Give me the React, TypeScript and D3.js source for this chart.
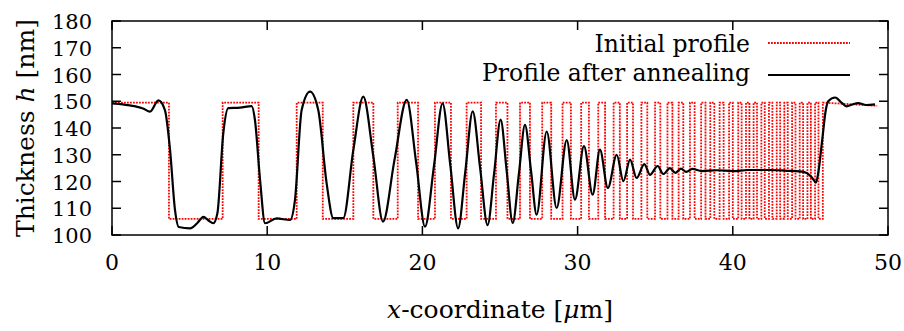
import React from "react";
import * as d3 from "d3";

// axis ticks
const xTicks = [0, 10, 20, 30, 40, 50];
const yTicks = [100, 110, 120, 130, 140, 150, 160, 170, 180];

// initial profile: square wave, edges alternate fall / rise (um)
const initialStart = 0;
const initialEnd = 49.3;
const initialHigh = 149.5;
const initialLow = 106;
const initialEndLevel = 148.3;
const initialEdges = [
  3.67, 7.13, 9.45, 11.9, 13.58, 15.55, 16.84, 18.41, 19.72, 20.81, 21.84,
  22.85, 23.78, 24.74, 25.48, 26.29, 26.93, 27.72, 28.3, 29.03, 29.57, 30.23,
  30.73, 31.33, 31.77, 32.32, 32.72, 33.19, 33.57, 34.11, 34.49, 34.99, 35.33,
  35.79, 36.11, 36.51, 36.81, 37.24, 37.54, 37.96, 38.24, 38.55, 38.81, 39.15,
  39.41, 39.76, 40.0, 40.35, 40.57, 40.85, 41.07, 41.34, 41.56, 41.84, 42.06,
  42.33, 42.55, 42.83, 43.05, 43.32, 43.54, 43.82, 44.04, 44.31, 44.53, 44.81,
  45.03, 45.3, 45.52, 45.8,
];

// profile after annealing
const annealedX = [
  0, 0.7, 1.4, 2.0, 2.45, 2.99, 3.41, 3.74, 4.06, 4.3, 5.03, 5.5, 5.89, 6.2,
  6.53, 6.79, 7.17, 7.49, 8.25, 9.0, 9.21, 9.54, 9.86, 10.61, 11.47, 11.79,
  12.22, 12.76, 13.29, 13.83, 14.26, 14.9, 15.55, 16.19, 16.84, 17.46, 18.2,
  18.99, 19.6, 20.17, 20.75, 21.3, 21.8, 22.3, 22.77, 23.24, 23.72, 24.2, 24.62,
  25.04, 25.43, 25.82, 26.22, 26.61, 27.0, 27.36, 28.01, 28.65, 29.3, 29.83,
  30.41, 30.97, 31.44, 31.95, 32.52, 32.95, 33.38, 33.8, 34.3, 34.66, 35.16,
  35.52, 35.95, 36.3, 36.66, 37.0, 37.4, 38.0, 39.0, 40.0, 41.0, 42.4, 43.5,
  44.3, 44.76, 45.1, 45.36, 45.5, 45.75, 46.0, 46.15, 46.6, 47.0, 47.33, 47.7,
  48.07, 48.6, 49.16,
];
const annealedH = [
  149.2, 148.8, 148.2, 147.3, 146.1, 150.3, 146.7, 131.8, 109.3, 103.0, 102.5,
  104.5, 106.8, 105.5, 104.4, 108.1, 138, 147.4, 147.6, 148.2, 143, 120.6,
  104.4, 106.2, 105.6, 113.1, 146.7, 153.6, 146.7, 119.3, 106.3, 106.3, 131.8,
  151.7, 129.3, 105, 128, 150.5, 127, 103.1, 126, 149.2, 126, 102.5, 124,
  146.2, 125, 103.7, 123, 143.1, 124, 104.5, 123, 141.2, 124, 107.6, 138.7,
  110.1, 135.5, 113.2, 133.2, 115.1, 131.9, 117.6, 130.0, 120.1, 128.2, 121.3,
  126.5, 122.5, 125.8, 122.8, 125.0, 123.2, 124.8, 123.6, 124.7, 123.9, 124.2,
  123.9, 124.3, 124.3, 124.0, 123.8, 123.2, 121.5, 119.6, 123, 135, 147, 150,
  151.4, 149.5, 148.1, 148.8, 149.3, 148.6, 148.8,
];

const W = 904;
const H = 331;
const margin = { left: 112, right: 16, top: 21, bottom: 96 };

const App: React.FC = () => {
  const x = d3
    .scaleLinear()
    .domain([0, 50])
    .range([margin.left, W - margin.right]);
  const y = d3
    .scaleLinear()
    .domain([100, 180])
    .range([H - margin.bottom, margin.top]);

  // build square wave points
  const initPts: [number, number][] = [[initialStart, initialHigh]];
  initialEdges.forEach((e, i) => {
    if (i % 2 === 0) {
      initPts.push([e, initialHigh], [e, initialLow]);
    } else {
      initPts.push([e, initialLow], [e, initialHigh]);
    }
  });
  initPts.push([initialEnd, initialEndLevel]);

  const straight = d3
    .line<[number, number]>()
    .x((d) => x(d[0]))
    .y((d) => y(d[1]));

  const smooth = d3
    .line<number>()
    .x((d) => x(d))
    .y((_, i) => y(annealedH[i]))
    .curve(d3.curveMonotoneX);

  const font = "DejaVu Serif";
  const x0 = x(0);
  const x1 = x(50);
  const yTop = y(180);
  const yBot = y(100);
  const tick = 9;

  return (
    <svg width={W} height={H} style={{ position: "absolute", left: 0, top: 0 }}>
      <rect width={W} height={H} fill="white" />
      <g fill="black">
        {/* data */}
        <path
          d={straight(initPts) || ""}
          fill="none"
          stroke="#ff0000"
          strokeWidth={1.8}
          strokeDasharray="1.8,1.2"
        />
        <path
          d={smooth(annealedX) || ""}
          fill="none"
          stroke="black"
          strokeWidth={2.2}
          strokeLinejoin="round"
        />

        {/* frame */}
        <rect
          x={x0}
          y={yTop}
          width={x1 - x0}
          height={yBot - yTop}
          fill="none"
          stroke="black"
          strokeWidth={1.5}
        />
        {xTicks.map((t) => (
          <g key={"x" + t}>
            <line x1={x(t)} x2={x(t)} y1={yBot} y2={yBot - tick} stroke="black" strokeWidth={1.5} />
            <line x1={x(t)} x2={x(t)} y1={yTop} y2={yTop + tick} stroke="black" strokeWidth={1.5} />
            <text x={x(t)} y={yBot + 35} fontFamily={font} fontSize={22} textAnchor="middle">
              {t}
            </text>
          </g>
        ))}
        {yTicks.map((t) => (
          <g key={"y" + t}>
            <line x1={x0} x2={x0 + tick} y1={y(t)} y2={y(t)} stroke="black" strokeWidth={1.5} />
            <line x1={x1} x2={x1 - tick} y1={y(t)} y2={y(t)} stroke="black" strokeWidth={1.5} />
            <text x={92} y={y(t) + 8} fontFamily={font} fontSize={21} textAnchor="end">
              {t}
            </text>
          </g>
        ))}

        {/* axis titles */}
        <text x={(x0 + x1) / 2} y={318} fontFamily={font} fontSize={25} textAnchor="middle">
          <tspan fontStyle="italic">x</tspan>-coordinate [<tspan fontStyle="italic">μ</tspan>m]
        </text>
        <text
          transform={`translate(34, ${(yTop + yBot) / 2}) rotate(-90)`}
          fontFamily={font}
          fontSize={25}
          textAnchor="middle"
        >
          Thickness <tspan fontStyle="italic">h</tspan> [nm]
        </text>

        {/* legend */}
        <text x={750} y={52} fontFamily={font} fontSize={23.5} textAnchor="end">
          Initial profile
        </text>
        <line
          x1={768}
          x2={850}
          y1={43}
          y2={43}
          stroke="#ff0000"
          strokeWidth={1.8}
          strokeDasharray="1.8,1.2"
        />
        <text x={750} y={81} fontFamily={font} fontSize={23.5} textAnchor="end">
          Profile after annealing
        </text>
        <line x1={768} x2={850} y1={75} y2={75} stroke="black" strokeWidth={2} />
      </g>
    </svg>
  );
};

export default App;
